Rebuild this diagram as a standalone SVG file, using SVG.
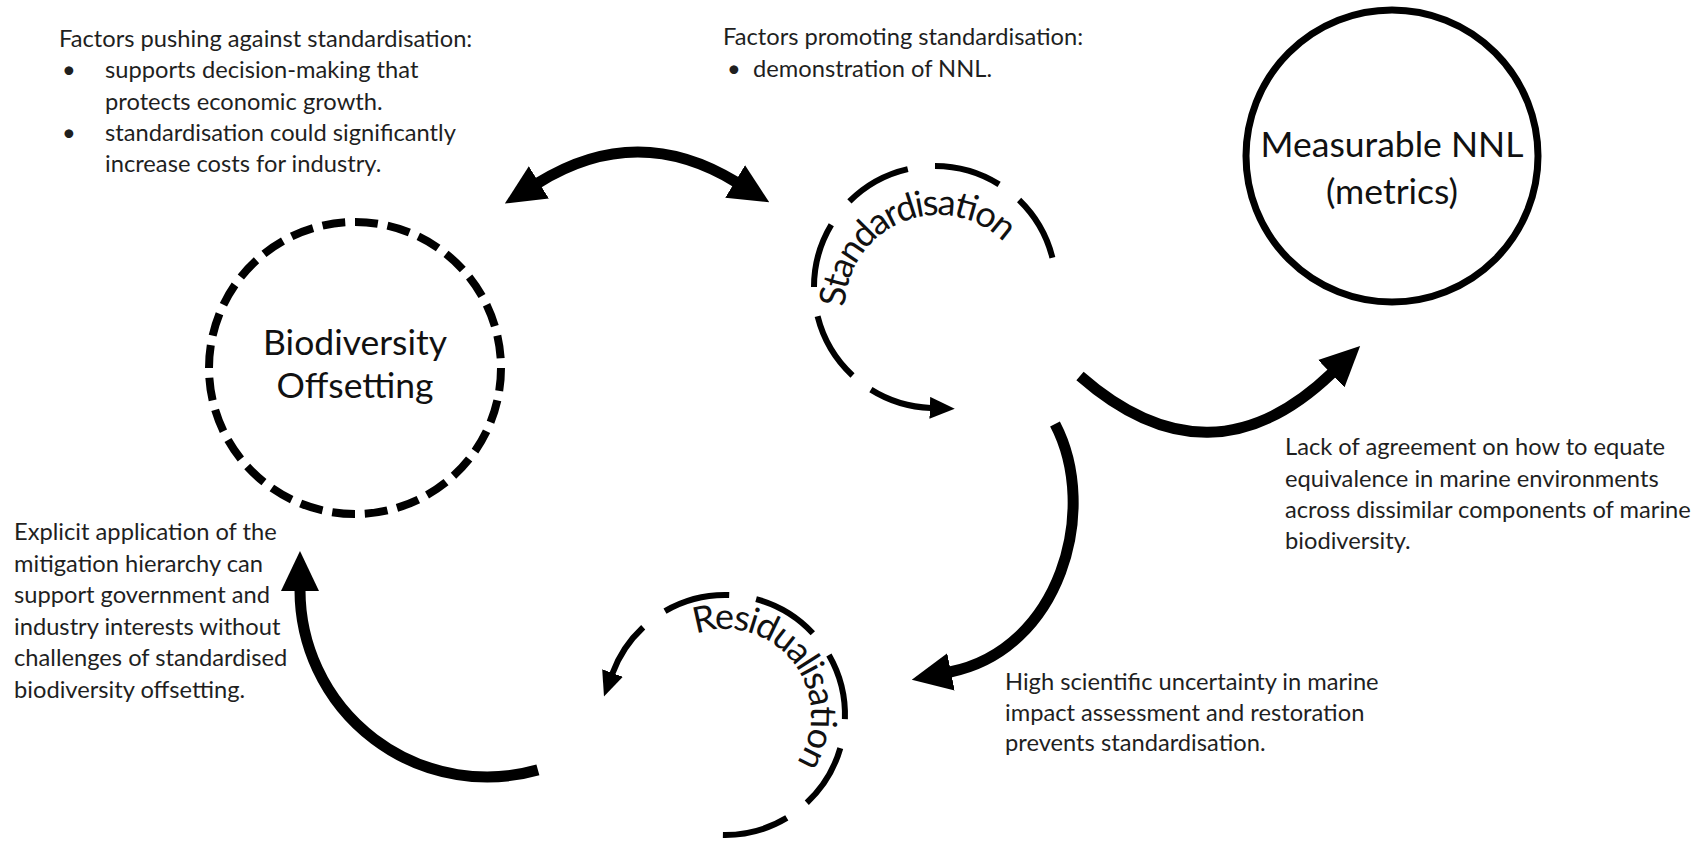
<svg xmlns="http://www.w3.org/2000/svg" xmlns:xlink="http://www.w3.org/1999/xlink" width="1706" height="843" viewBox="0 0 1706 843">
<style>
.txt{font-family:Lato,"Liberation Sans",sans-serif;font-size:23.7px;fill:#1f1f1f}
.lbl{font-family:Lato,"Liberation Sans",sans-serif;font-size:35.5px;fill:#111;text-anchor:middle}
.arc{font-family:Lato,"Liberation Sans",sans-serif;font-size:36px;fill:#111}
.thick{fill:none;stroke:#000;stroke-width:11}
.dash{fill:none;stroke:#000;stroke-width:6}
</style>
<defs>
<marker id="big" viewBox="0 0 40 40" refX="1" refY="20" markerWidth="40" markerHeight="40" markerUnits="userSpaceOnUse" orient="auto-start-reverse"><path d="M0,1 L40,20 L0,39 Z" fill="#000"/></marker>
<marker id="small" viewBox="0 0 25 22" refX="1" refY="11" markerWidth="25" markerHeight="22" markerUnits="userSpaceOnUse" orient="auto"><path d="M0,0 L25,11 L0,22 Z" fill="#000"/></marker>
<path id="stdPath" d="M845,306.9 A93,93 0 0 1 1004.9,243.4"/>
<path id="resPath" d="M695.9,634.1 A86,86 0 0 1 795.7,764"/>
</defs>
<rect width="1706" height="843" fill="#fff"/>

<g id="note-against">
<text class="txt" x="59" y="47">Factors pushing against standardisation:</text>
<text class="txt" x="62" y="78">•</text><text class="txt" x="105" y="78">supports decision-making that</text>
<text class="txt" x="105" y="110">protects economic growth.</text>
<text class="txt" x="62" y="141">•</text><text class="txt" x="105" y="141">standardisation could significantly</text>
<text class="txt" x="105" y="172">increase costs for industry.</text>
</g>

<g id="note-promoting">
<text class="txt" x="723" y="45">Factors promoting standardisation:</text>
<text class="txt" x="727" y="77">•</text><text class="txt" x="753" y="77">demonstration of NNL.</text>
</g>

<g id="note-equivalence">
<text class="txt" x="1285" y="455">Lack of agreement on how to equate</text>
<text class="txt" x="1285" y="487">equivalence in marine environments</text>
<text class="txt" x="1285" y="518">across dissimilar components of marine</text>
<text class="txt" x="1285" y="549">biodiversity.</text>
</g>

<g id="note-uncertainty">
<text class="txt" x="1005" y="690">High scientific uncertainty in marine</text>
<text class="txt" x="1005" y="721">impact assessment and restoration</text>
<text class="txt" x="1005" y="751">prevents standardisation.</text>
</g>

<g id="note-mitigation">
<text class="txt" x="14" y="540">Explicit application of the</text>
<text class="txt" x="14" y="571.5">mitigation hierarchy can</text>
<text class="txt" x="14" y="603">support government and</text>
<text class="txt" x="14" y="634.5">industry interests without</text>
<text class="txt" x="14" y="666">challenges of standardised</text>
<text class="txt" x="14" y="697.5">biodiversity offsetting.</text>
</g>

<g id="node-biodiversity-offsetting">
<circle cx="355" cy="368" r="146" fill="none" stroke="#000" stroke-width="8" pathLength="280" stroke-dasharray="7 3"/>
<text class="lbl" x="355" y="355">Biodiversity</text>
<text class="lbl" x="355" y="398">Offsetting</text>
</g>

<g id="node-measurable-nnl">
<circle cx="1392" cy="156" r="146" fill="none" stroke="#000" stroke-width="7"/>
<text class="lbl" x="1392" y="157" font-size="36">Measurable NNL</text>
<text class="lbl" x="1392" y="204" font-size="36">(metrics)</text>
</g>

<g id="node-standardisation">
<path class="dash" d="M1019.1,200 A121,121 0 0 1 1052.4,257.7"/>
<path class="dash" d="M935,166 A121,121 0 0 1 999.1,184.4"/>
<path class="dash" d="M849.4,201.4 A121,121 0 0 1 907.8,169.1"/>
<path class="dash" d="M814,287 A121,121 0 0 1 831.3,224.7"/>
<path class="dash" d="M852.5,375.5 A121,121 0 0 1 817.6,316.3"/>
<path class="dash" d="M870.9,389.6 A121,121 0 0 0 930.8,407.9" marker-end="url(#small)"/>
<text class="arc"><textPath xlink:href="#stdPath" href="#stdPath" textLength="218" lengthAdjust="spacing">Standardisation</textPath></text>
</g>

<g id="node-residualisation">
<path class="dash" d="M665,611.1 A120,120 0 0 1 729.2,595.1"/>
<path class="dash" d="M756.1,599.1 A120,120 0 0 1 812.8,633.2"/>
<path class="dash" d="M828.9,655 A120,120 0 0 1 844.9,719.2"/>
<path class="dash" d="M840.3,748.1 A120,120 0 0 1 806.8,802.7"/>
<path class="dash" d="M786.8,817.9 A120,120 0 0 1 722.9,835"/>
<path class="dash" d="M643.2,627.3 A120,120 0 0 0 612.2,674" marker-end="url(#small)"/>
<text class="arc"><textPath xlink:href="#resPath" href="#resPath" textLength="215" lengthAdjust="spacing">Residualisation</textPath></text>
</g>

<g id="connectors">
<path class="thick" d="M538,183 Q637,121.5 736,182" marker-start="url(#big)" marker-end="url(#big)"/>
<path class="thick" d="M1080,376 Q1210,490 1332,373" marker-end="url(#big)"/>
<path class="thick" d="M1055,424 C1100,510 1060,650 950,672" marker-end="url(#big)"/>
<path class="thick" d="M537.9,769.9 A187,187 0 0 1 300,590" marker-end="url(#big)"/>
</g>
</svg>
